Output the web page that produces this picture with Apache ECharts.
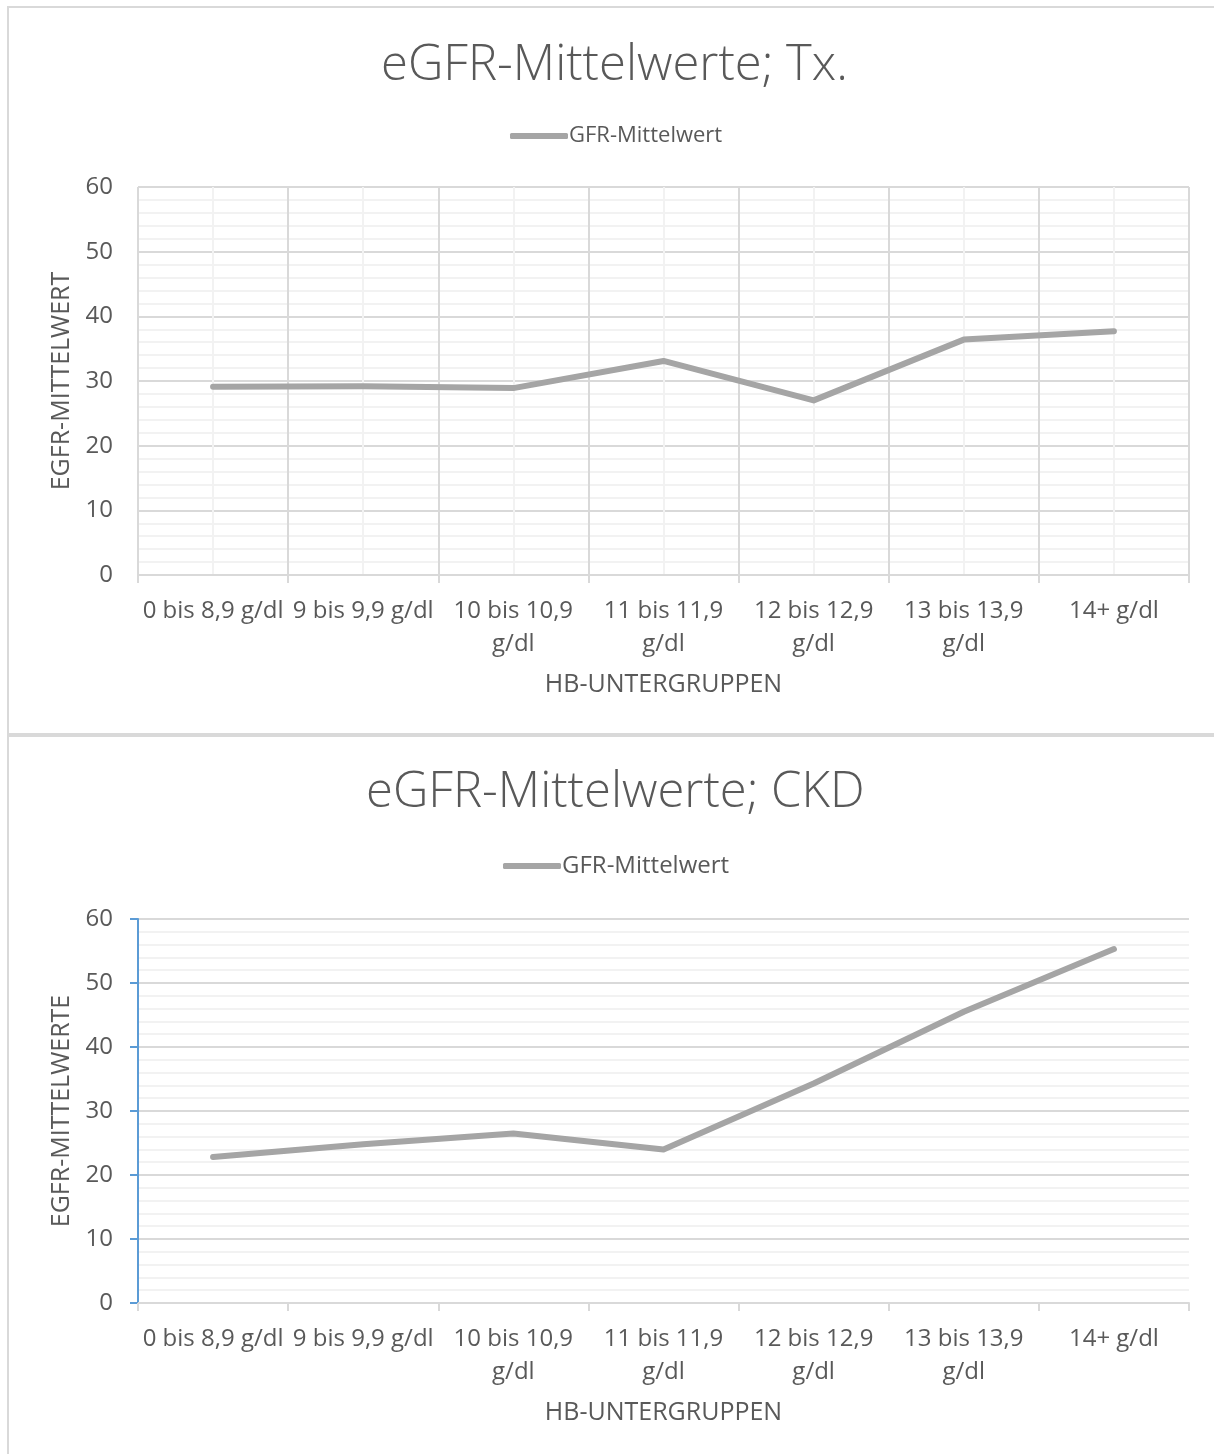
<!DOCTYPE html>
<html>
<head>
<meta charset="utf-8">
<script src="https://cdn.jsdelivr.net/npm/echarts@6/dist/echarts.min.js"></script>
<style>
html,body{margin:0;padding:0;background:#fff;}
#c{width:1214px;height:1454px;}
</style>
</head>
<body>
<div id="c"></div>
<script>
const categories = ['0 bis 8,9 g/dl','9 bis 9,9 g/dl','10 bis 10,9 g/dl','11 bis 11,9 g/dl','12 bis 12,9 g/dl','13 bis 13,9 g/dl','14+ g/dl'];
const txValues = [29.1, 29.2, 28.9, 33.1, 27.0, 36.4, 37.7];
const ckdValues = [22.8, 24.8, 26.5, 24.0, 34.3, 45.5, 55.3];
const yTicks = [0, 10, 20, 30, 40, 50, 60];
const seriesName = 'GFR-Mittelwert';
const titleTx = 'eGFR-Mittelwerte; Tx.';
const titleCkd = 'eGFR-Mittelwerte; CKD';
const xName = 'HB-UNTERGRUPPEN';
const yNameTx = 'EGFR-MITTELWERT';
const yNameCkd = 'EGFR-MITTELWERTE';

const FONT = '"Open Sans", "Segoe UI", sans-serif';
const TXT = '#595959';
const GRID_MAJOR = '#d9d9d9';
const GRID_MINOR = '#f2f2f2';
const LINE = '#a5a5a5';

const chart = echarts.init(document.getElementById('c'), null, {renderer: 'canvas'});

function labelFmt(v){ return v.length > 14 ? v.replace(' g/dl', '\ng/dl') : v; }

function catAxis(gi){
  return {
    type: 'category', gridIndex: gi, data: categories, boundaryGap: true,
    axisLine: {show: true, lineStyle: {color: GRID_MAJOR, width: 2}},
    axisTick: {show: true, length: 8, lineStyle: {color: GRID_MAJOR, width: 2}},
    axisLabel: {color: TXT, fontFamily: FONT, fontSize: 24, lineHeight: 33, margin: 20, formatter: labelFmt, interval: 0},
    splitLine: {show: false},
    name: xName, nameLocation: 'middle', nameGap: 97,
    nameTextStyle: {color: TXT, fontFamily: FONT, fontSize: 25}
  };
}
function valAxis(gi, name, blue){
  return {
    type: 'value', gridIndex: gi, min: yTicks[0], max: yTicks[yTicks.length-1], interval: 10,
    axisLine: {show: blue, lineStyle: {color: '#5b9bd5', width: 2}},
    axisTick: {show: blue, length: 8, lineStyle: {color: '#5b9bd5', width: 2}},
    axisLabel: {color: TXT, fontFamily: FONT, fontSize: 24, margin: 25},
    splitLine: {show: true, lineStyle: {color: GRID_MAJOR, width: 2}},
    minorTick: {show: false, splitNumber: 5},
    minorSplitLine: {show: true, lineStyle: {color: GRID_MINOR, width: 2}},
    name: name, nameLocation: 'middle', nameGap: 64,
    nameTextStyle: {color: TXT, fontFamily: FONT, fontSize: 25}
  };
}

const option = {
  animation: false,
  graphic: [
    {type: 'rect', shape: {x: 8, y: 7, width: 1230, height: 727}, style: {fill: 'none', stroke: GRID_MAJOR, lineWidth: 2}, z: 100},
    {type: 'rect', shape: {x: 8, y: 736, width: 1230, height: 740}, style: {fill: 'none', stroke: GRID_MAJOR, lineWidth: 2}, z: 100}
  ],
  title: [
    {text: titleTx, left: 381, top: 42, padding: 0, textStyle: {color: TXT, fontFamily: FONT, fontSize: 49, fontWeight: 300}},
    {text: titleCkd, left: 366, top: 769, padding: 0, textStyle: {color: TXT, fontFamily: FONT, fontSize: 49, fontWeight: 300}}
  ],
  legend: [
    {data: [seriesName], left: 510, top: 125, padding: 0, icon: 'roundRect', itemWidth: 58, itemHeight: 6, itemGap: 2,
     textStyle: {color: TXT, fontFamily: FONT, fontSize: 22, padding: [0,0,0,-4]}, selectedMode: false},
    {data: [seriesName], left: 503, top: 854, padding: 0, icon: 'roundRect', itemWidth: 58, itemHeight: 6, itemGap: 2,
     textStyle: {color: TXT, fontFamily: FONT, fontSize: 24, padding: [0,0,0,-4]}, selectedMode: false}
  ],
  grid: [
    {left: 138, right: 25, top: 187, height: 388},
    {left: 138, right: 25, top: 919, height: 384}
  ],
  xAxis: [
    catAxis(0),
    catAxis(1),
    {type: 'value', gridIndex: 0, min: 0, max: 7, interval: 1,
     axisLine: {show: false}, axisTick: {show: false}, axisLabel: {show: false},
     splitLine: {show: true, lineStyle: {color: GRID_MAJOR, width: 2}},
     minorTick: {show: false, splitNumber: 2},
     minorSplitLine: {show: true, lineStyle: {color: GRID_MINOR, width: 2}}}
  ],
  yAxis: [
    valAxis(0, yNameTx, false),
    valAxis(1, yNameCkd, true)
  ],
  series: [
    {name: seriesName, type: 'line', xAxisIndex: 0, yAxisIndex: 0, data: txValues, showSymbol: false, symbol: 'none',
     color: LINE, lineStyle: {color: LINE, width: 6, cap: 'round', join: 'round'}, z: 10},
    {name: seriesName, type: 'line', xAxisIndex: 1, yAxisIndex: 1, data: ckdValues, showSymbol: false, symbol: 'none',
     color: LINE, lineStyle: {color: LINE, width: 6, cap: 'round', join: 'round'}, z: 10}
  ]
};
chart.setOption(option);
</script>
</body>
</html>
